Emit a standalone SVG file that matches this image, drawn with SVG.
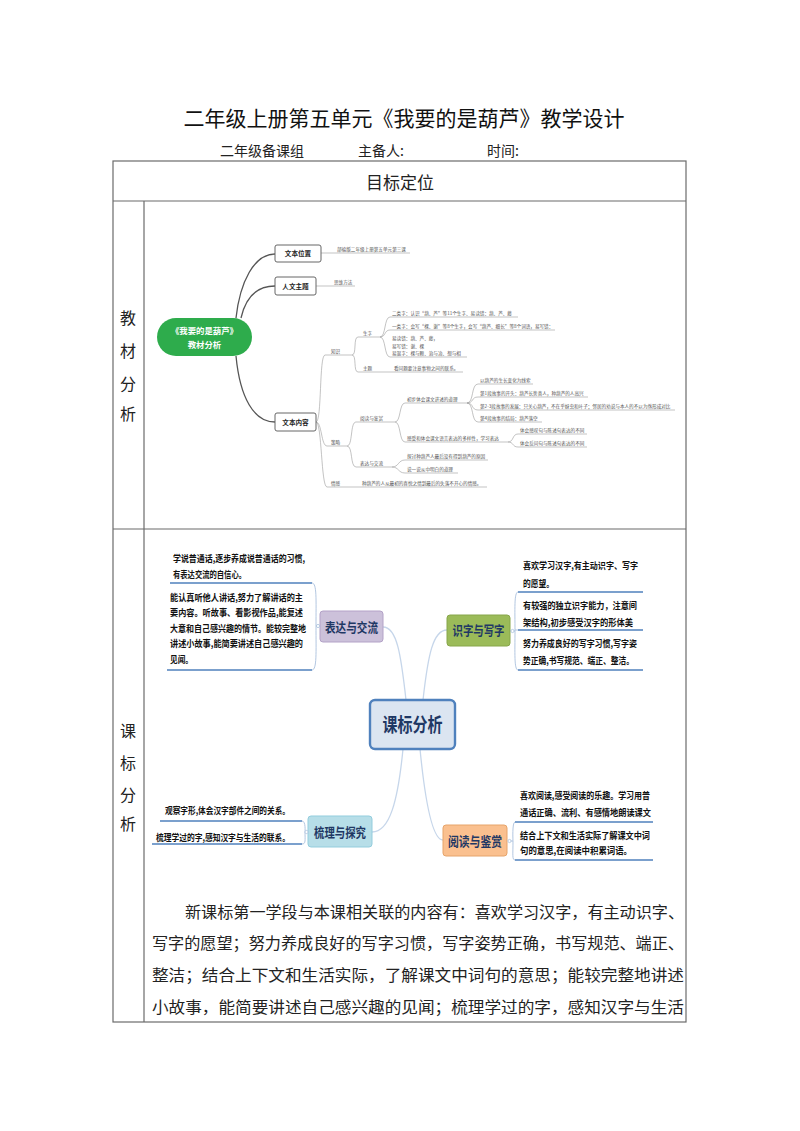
<svg xmlns="http://www.w3.org/2000/svg" width="800" height="1131" viewBox="0 0 800 1131">
<style>
text{font-family:"Noto Sans CJK SC","Liberation Sans",sans-serif;}
.tbl{fill:none;stroke:#6b6b6b;stroke-width:1.2;}
.lbl{font-size:16px;fill:#222;text-anchor:middle;}
.br1{fill:none;stroke:#555;stroke-width:1.3;}
.bx1{fill:#fff;stroke:#666;stroke-width:1;}
.bt1{font-size:6.6px;font-weight:bold;fill:#222;text-anchor:middle;}
.tl{fill:none;stroke:#9a9a9a;stroke-width:0.6;}
.tt{font-size:4.6px;fill:#555;}
.cc{fill:none;stroke:#c6d6ea;stroke-width:1.3;}
.ul{fill:none;stroke:#4f81bd;stroke-width:1.6;}
.bk{fill:none;stroke:#a9c0dc;stroke-width:0.9;}
.ct{font-size:9.5px;font-weight:bold;fill:#111;}
.mt{font-size:13px;font-weight:bold;fill:#1f3864;text-anchor:middle;}
.dot{fill:#fff;stroke:#a9c0dc;stroke-width:0.8;}
.para{font-size:15.6px;fill:#222;}
</style>
<rect width="800" height="1131" fill="#fff"/>
<g id="header">
<text x="404" y="126" font-size="21" text-anchor="middle" fill="#111">二年级上册第五单元《我要的是葫芦》教学设计</text>
<text x="220" y="156" font-size="14" fill="#222">二年级备课组</text>
<text x="358" y="156" font-size="14" fill="#222">主备人:</text>
<text x="487" y="156" font-size="14" fill="#222">时间:</text>
</g>
<g id="table">
<rect class="tbl" x="113" y="161" width="573" height="861"/>
<line class="tbl" x1="113" y1="201" x2="686" y2="201"/>
<line class="tbl" x1="113" y1="529" x2="686" y2="529"/>
<line class="tbl" x1="144" y1="201" x2="144" y2="1022"/>
<text x="400" y="189" font-size="17" text-anchor="middle" fill="#222">目标定位</text>
<text class="lbl" x="128" y="324">教</text>
<text class="lbl" x="128" y="357">材</text>
<text class="lbl" x="128" y="390">分</text>
<text class="lbl" x="128" y="420">析</text>
<text class="lbl" x="128" y="737">课</text>
<text class="lbl" x="128" y="769">标</text>
<text class="lbl" x="128" y="801">分</text>
<text class="lbl" x="128" y="830">析</text>
</g>
<g id="map1-connectors">
<path class="br1" d="M236,318 C240,282 254,254 275,254"/>
<path class="br1" d="M241,318 C246,296 258,286 275,286"/>
<path class="br1" d="M236,356 C240,398 254,422 275,422"/>
<path class="tl" d="M321,253 H410"/>
<path class="tl" d="M316,286 H355"/>
<path class="tl" d="M316,422 C322,422 319,355 325,355 H352"/>
<path class="tl" d="M316,422 C322,422 321,446 327,446 H347"/>
<path class="tl" d="M316,422 C322,422 321,487 327,487 H487"/>
<path class="tl" d="M352,355 C357,355 353,337 358,337 H380"/>
<path class="tl" d="M352,355 C357,355 353,372 358,372 H463"/>
<path class="tl" d="M380,337 C386,337 384,317 390,317 H518"/>
<path class="tl" d="M380,337 C386,337 384,330 390,330 H555"/>
<path class="tl" d="M380,337 C386,337 384,357 390,357 H467"/>
<path class="tl" d="M347,446 C353,446 350,422 356,422 H395"/>
<path class="tl" d="M347,446 C353,446 350,467 356,467 H392"/>
<path class="tl" d="M395,422 C401,422 399,403 405,403 H467"/>
<path class="tl" d="M395,422 C401,422 399,442 405,442 H508"/>
<path class="tl" d="M467,403 C474,403 471,384 478,384 H533"/>
<path class="tl" d="M467,403 C474,403 471,397 478,397 H588"/>
<path class="tl" d="M467,403 C474,403 471,410 478,410 H675"/>
<path class="tl" d="M467,403 C474,403 471,422 478,422 H542"/>
<path class="tl" d="M508,442 C514,442 512,434 518,434 H587"/>
<path class="tl" d="M508,442 C514,442 512,447 518,447 H587"/>
<path class="tl" d="M392,467 C399,467 398,460 405,460 H488"/>
<path class="tl" d="M392,467 C399,467 398,473 405,473 H458"/>
</g>
<g id="map1-root">
<rect x="157" y="318" width="95" height="38" rx="19" fill="#2eac4c"/>
<text x="204.5" y="334" font-size="8.4" font-weight="bold" fill="#fff" text-anchor="middle">《我要的是葫芦》</text>
<text x="204.5" y="348" font-size="8.4" font-weight="bold" fill="#fff" text-anchor="middle">教材分析</text>
</g>
<g id="map1-wenbenweizhi">
<rect class="bx1" x="275" y="245" width="46" height="17" rx="2"/>
<text class="bt1" x="298" y="256">文本位置</text>
<text class="tt" x="337" y="251">部编版二年级上册第五单元第三课</text>
</g>
<g id="map1-renwenzhuti">
<rect class="bx1" x="275" y="277" width="41" height="18" rx="2"/>
<text class="bt1" x="295.5" y="288.5">人文主题</text>
<text class="tt" x="334" y="284">思维方法</text>
</g>
<g id="map1-wenbenneirong">
<rect class="bx1" x="275" y="413" width="41" height="18" rx="2"/>
<text class="bt1" x="295.5" y="424.5">文本内容</text>
</g>
<g id="map1-tree">
<text class="tt" x="331" y="353">知识</text>
<text class="tt" x="363" y="335">生字</text>
<text class="tt" x="392" y="315">二类字：认识“葫、芦”等11个生字、易读错：葫、芦、藤</text>
<text class="tt" x="392" y="328">一类字：会写“棵、谢”等8个生字，会写“葫芦、细长”等8个词语，易写错：</text>
<text class="tt" x="392" y="340">易读错：葫、芦、藤，</text>
<text class="tt" x="392" y="347.5">易写错：谢、棵</text>
<text class="tt" x="392" y="355">易混字：棵与颗、治与冶、想与相</text>
<text class="tt" x="363" y="370">主题</text>
<text class="tt" x="394" y="370">看问题要注意事物之间的联系。</text>
<text class="tt" x="331" y="444">策略</text>
<text class="tt" x="360" y="420">阅读与鉴赏</text>
<text class="tt" x="407" y="401">初步体会课文讲述的道理</text>
<text class="tt" x="480" y="382">以葫芦的生长变化为线索</text>
<text class="tt" x="480" y="395">第1段故事的开头：葫芦长势喜人，种葫芦的人高兴</text>
<text class="tt" x="480" y="408">第2-3段故事的发展：只关心葫芦，不在乎蚜虫和叶子；邻居的劝说与本人的不以为然形成对比</text>
<text class="tt" x="480" y="420">第4段故事的结局：葫芦落空</text>
<text class="tt" x="407" y="440">感受和体会课文语言表达的多样性，学习表达</text>
<text class="tt" x="520" y="432">体会感叹句与陈述句表达的不同</text>
<text class="tt" x="520" y="445">体会反问句与陈述句表达的不同</text>
<text class="tt" x="360" y="465">表达与交流</text>
<text class="tt" x="407" y="458">探讨种葫芦人最后没有得到葫芦的原因</text>
<text class="tt" x="407" y="471">说一说从中明白的道理</text>
<text class="tt" x="331" y="485">情感</text>
<text class="tt" x="362" y="485">种葫芦的人从最初的喜悦之情到最后的失落不开心的情感。</text>
</g>
<g id="map2-connectors">
<path class="cc" d="M406,700 C401,655 397,627 383,627"/>
<path class="cc" d="M423,700 C428,655 433,630 447,630"/>
<path class="cc" d="M403,749 C398,800 390,832 372,832"/>
<path class="cc" d="M420,749 C425,800 432,840 443,840"/>
<path class="bk" d="M312,583 C317,583 316,600 316,626 C316,652 317,670 312,670"/>
<path class="bk" d="M316,626 H320"/>
<path class="bk" d="M518,592 C514,592 515,610 515,631 C515,652 514,670 518,670"/>
<path class="bk" d="M515,630 H518 M510,631 H515"/>
<path class="bk" d="M302,821 C306,821 305,832 305,832 C305,840 306,844 302,844"/>
<path class="bk" d="M305,832 H308"/>
<path class="bk" d="M515,822 C512,822 513,841 513,841 C513,855 512,860 515,860"/>
<path class="bk" d="M510,841 H513"/>
</g>
<g id="map2-center">
<rect x="370" y="700" width="85" height="49" rx="5" fill="#dbe5f1" stroke="#4f81bd" stroke-width="2.4"/>
<text x="412.5" y="732" font-size="19" font-weight="bold" fill="#1f3864" text-anchor="middle" textLength="60" lengthAdjust="spacingAndGlyphs">课标分析</text>
</g>
<g id="map2-biaoda">
<rect x="320" y="611" width="63" height="31" rx="3" fill="#ccc1da" stroke="#b3a2c7" stroke-width="1"/>
<text class="mt" x="351.5" y="631.5" textLength="53" lengthAdjust="spacingAndGlyphs">表达与交流</text>
<circle class="dot" cx="318" cy="626" r="1.6"/>
<text class="ct" x="173" y="562" textLength="132" lengthAdjust="spacingAndGlyphs">学说普通话,逐步养成说普通话的习惯,</text>
<text class="ct" x="173" y="578" textLength="73" lengthAdjust="spacingAndGlyphs">有表达交流的自信心。</text>
<path class="ul" d="M170,583 H312"/>
<text class="ct" x="170" y="600.5" textLength="133" lengthAdjust="spacingAndGlyphs">能认真听他人讲话,努力了解讲话的主</text>
<text class="ct" x="170" y="616" textLength="133" lengthAdjust="spacingAndGlyphs">要内容。听故事、看影视作品,能复述</text>
<text class="ct" x="170" y="631.5" textLength="136" lengthAdjust="spacingAndGlyphs">大意和自己感兴趣的情节。能较完整地</text>
<text class="ct" x="170" y="647" textLength="133" lengthAdjust="spacingAndGlyphs">讲述小故事,能简要讲述自己感兴趣的</text>
<text class="ct" x="170" y="663" textLength="23" lengthAdjust="spacingAndGlyphs">见闻。</text>
<path class="ul" d="M167,670 H312"/>
</g>
<g id="map2-shizi">
<rect x="447" y="615" width="63" height="31" rx="3" fill="#9bbb59" stroke="#87a64a" stroke-width="1"/>
<text class="mt" x="478.5" y="635" textLength="52" lengthAdjust="spacingAndGlyphs">识字与写字</text>
<circle class="dot" cx="512.5" cy="631" r="1.6"/>
<text class="ct" x="523" y="568.5" textLength="115" lengthAdjust="spacingAndGlyphs">喜欢学习汉字,有主动识字、写字</text>
<text class="ct" x="523" y="586.5" textLength="31" lengthAdjust="spacingAndGlyphs">的愿望。</text>
<path class="ul" d="M518,592 H643"/>
<text class="ct" x="523" y="608.5" textLength="114" lengthAdjust="spacingAndGlyphs">有较强的独立识字能力，注意间</text>
<text class="ct" x="523" y="625.5" textLength="110" lengthAdjust="spacingAndGlyphs">架结构,初步感受汉字的形体美</text>
<path class="ul" d="M518,630 H643"/>
<text class="ct" x="523" y="646.5" textLength="114" lengthAdjust="spacingAndGlyphs">努力养成良好的写字习惯,写字姿</text>
<text class="ct" x="523" y="663.5" textLength="111" lengthAdjust="spacingAndGlyphs">势正确,书写规范、端正、整洁。</text>
<path class="ul" d="M518,670 H643"/>
</g>
<g id="map2-shuli">
<rect x="308" y="816" width="64" height="31" rx="3" fill="#b7dee8" stroke="#93cddd" stroke-width="1"/>
<text class="mt" x="340" y="836.5" textLength="52" lengthAdjust="spacingAndGlyphs">梳理与探究</text>
<circle class="dot" cx="306.5" cy="832" r="1.6"/>
<text class="ct" x="165" y="813.5" textLength="125" lengthAdjust="spacingAndGlyphs">观察字形,体会汉字部件之间的关系。</text>
<path class="ul" d="M160,821 H302"/>
<text class="ct" x="156" y="840.5" textLength="134" lengthAdjust="spacingAndGlyphs">梳理学过的字,感知汉字与生活的联系。</text>
<path class="ul" d="M152,844 H302"/>
</g>
<g id="map2-yuedu">
<rect x="443" y="825" width="64" height="31" rx="3" fill="#fac08f" stroke="#e6a46a" stroke-width="1"/>
<text class="mt" x="475" y="845.5" textLength="54" lengthAdjust="spacingAndGlyphs">阅读与鉴赏</text>
<circle class="dot" cx="509.5" cy="841" r="1.6"/>
<text class="ct" x="520" y="798.5" textLength="130" lengthAdjust="spacingAndGlyphs">喜欢阅读,感受阅读的乐趣。学习用普</text>
<text class="ct" x="520" y="815.5" textLength="131" lengthAdjust="spacingAndGlyphs">通话正确、流利、有感情地朗读课文</text>
<path class="ul" d="M515,822 H653"/>
<text class="ct" x="520" y="838.5" textLength="130" lengthAdjust="spacingAndGlyphs">结合上下文和生活实际了解课文中词</text>
<text class="ct" x="520" y="853.5" textLength="112" lengthAdjust="spacingAndGlyphs">句的意思,在阅读中积累词语。</text>
<path class="ul" d="M515,860 H653"/>
</g>
<g id="paragraph">
<text class="para" x="185" y="918" textLength="499" lengthAdjust="spacingAndGlyphs">新课标第一学段与本课相关联的内容有：喜欢学习汉字，有主动识字、</text>
<text class="para" x="152" y="949" textLength="532" lengthAdjust="spacingAndGlyphs">写字的愿望；努力养成良好的写字习惯，写字姿势正确，书写规范、端正、</text>
<text class="para" x="152" y="981" textLength="532" lengthAdjust="spacingAndGlyphs">整洁；结合上下文和生活实际，了解课文中词句的意思；能较完整地讲述</text>
<text class="para" x="152" y="1013" textLength="532" lengthAdjust="spacingAndGlyphs">小故事，能简要讲述自己感兴趣的见闻；梳理学过的字，感知汉字与生活</text>
</g>
</svg>
